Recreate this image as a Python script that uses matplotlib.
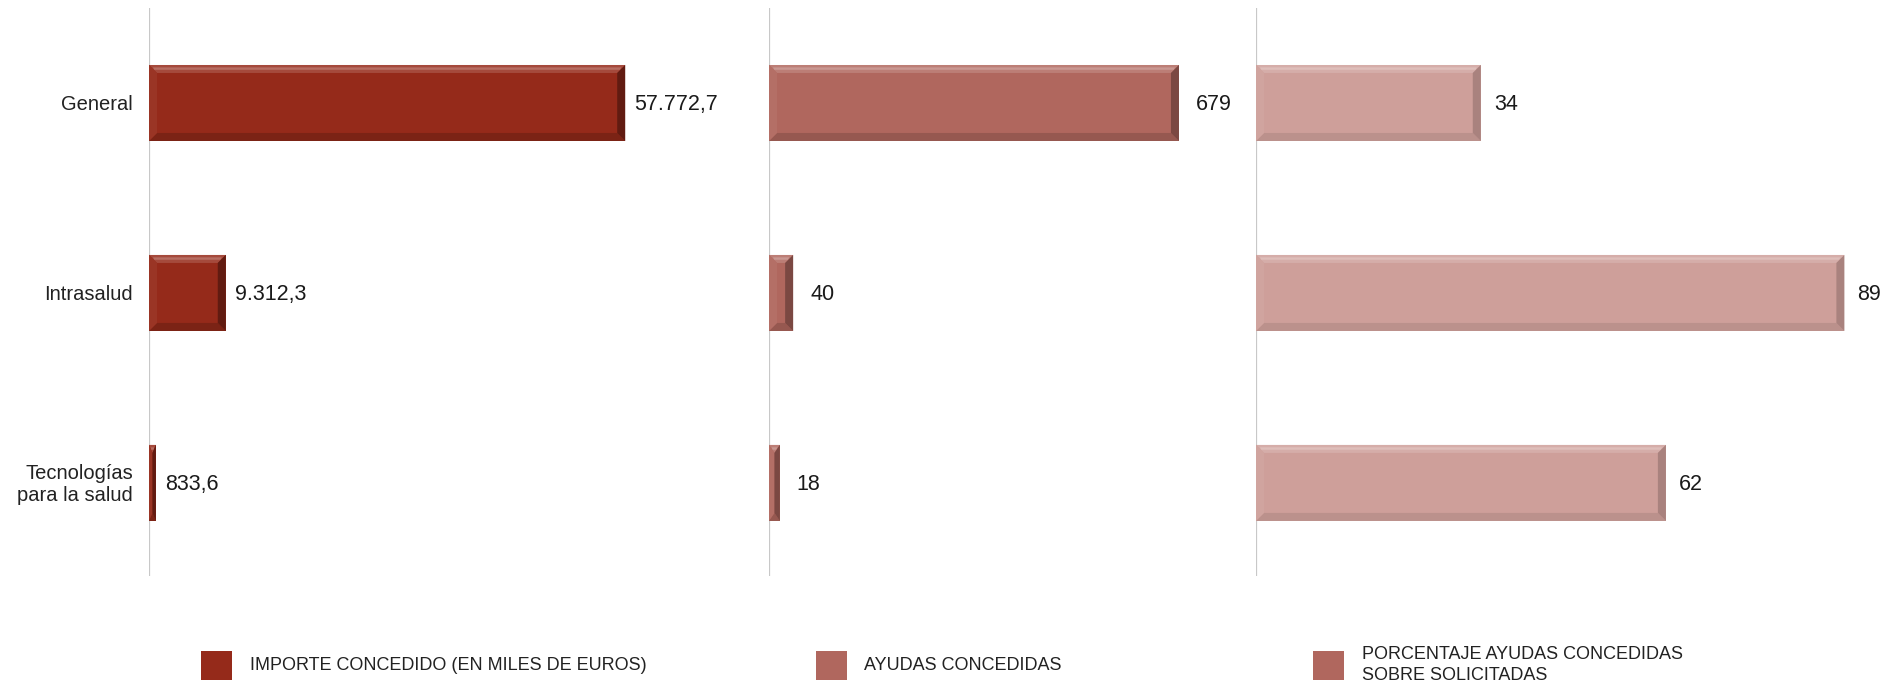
import matplotlib
matplotlib.use("Agg")
import matplotlib.pyplot as plt
from matplotlib.patches import Polygon, Rectangle
import matplotlib.colors as mcolors
import numpy as np

plt.rcParams['font.family'] = ['Liberation Sans', 'DejaVu Sans']

categories = ["General", "Intrasalud", "Tecnologías\npara la salud"]
importe = [57772.7, 9312.3, 833.6]
ayudas = [679, 40, 18]
porcentaje = [34, 89, 62]
importe_labels = ["57.772,7", "9.312,3", "833,6"]
ayudas_labels = ["679", "40", "18"]
porcentaje_labels = ["34", "89", "62"]
legend_labels = ["IMPORTE CONCEDIDO (EN MILES DE EUROS)", "AYUDAS CONCEDIDAS",
                 "PORCENTAJE AYUDAS CONCEDIDAS\nSOBRE SOLICITADAS"]

W, H = 1901, 688
fig = plt.figure(figsize=(W / 100, H / 100), dpi=100)
YTOP, YBOT = 8, 576

def ax_at(x0, x1):
    return fig.add_axes([x0 / W, (H - YBOT) / H, (x1 - x0) / W, (YBOT - YTOP) / H])

def blend(c, other, t):
    c = np.array(mcolors.to_rgb(c)); o = np.array(mcolors.to_rgb(other))
    return tuple(c * (1 - t) + o * t)

panels = [
    dict(x0=149, x1=726, xmax=70000, vals=importe, labels=importe_labels, color="#952A1A",
         off=9, dk=0.35),
    dict(x0=769, x1=1252, xmax=800, vals=ayudas, labels=ayudas_labels, color="#B0675E",
         off=17, dk=0.3),
    dict(x0=1256, x1=1851, xmax=90, vals=porcentaje, labels=porcentaje_labels, color="#CE9F9A",
         off=13, dk=0.18),
]

ypos = np.arange(len(categories))
bar_h = 0.40
ylim = (2.49, -0.5)

for i, p in enumerate(panels):
    ax = ax_at(p["x0"], p["x1"])
    ax.set_xlim(0, p["xmax"])
    ax.set_ylim(*ylim)
    ax.axis("off")
    ax.axvline(0, color="#C8C8C8", lw=1.6, zorder=1)
    bars = ax.barh(ypos, p["vals"], height=bar_h, color=p["color"], zorder=2, linewidth=0)
    axw = p["x1"] - p["x0"]
    axh = YBOT - YTOP
    sx = p["xmax"] / axw
    sy = (ylim[0] - ylim[1]) / axh
    c = p["color"]
    dk = p["dk"]
    for b in bars:
        x0 = b.get_x(); w = b.get_width(); yc = b.get_y() + b.get_height() / 2
        yt = yc - bar_h / 2; yb = yc + bar_h / 2
        bw = min(8 * sx, w / 2); bh = 8 * sy
        # top (light)
        ax.add_patch(Polygon([(x0, yt), (x0 + w, yt), (x0 + w - bw, yt + bh), (x0 + bw, yt + bh)],
                             closed=True, color=blend(c, "white", 0.15), lw=0, zorder=3))
        ax.add_patch(Polygon([(x0 + bw * 0.5, yt + bh * 0.3), (x0 + w - bw * 0.5, yt + bh * 0.3),
                              (x0 + w - bw * 0.65, yt + bh * 0.6), (x0 + bw * 0.65, yt + bh * 0.6)],
                             closed=True, color=blend(c, "white", 0.32), lw=0, zorder=3))
        # bottom (dark)
        ax.add_patch(Polygon([(x0, yb), (x0 + w, yb), (x0 + w - bw, yb - bh), (x0 + bw, yb - bh)],
                             closed=True, color=blend(c, "black", dk * 0.5), lw=0, zorder=3))
        # left (slightly light)
        ax.add_patch(Polygon([(x0, yt), (x0 + bw, yt + bh), (x0 + bw, yb - bh), (x0, yb)],
                             closed=True, color=blend(c, "white", 0.05), lw=0, zorder=3))
        # right (dark)
        ax.add_patch(Polygon([(x0 + w, yt), (x0 + w - bw, yt + bh), (x0 + w - bw, yb - bh), (x0 + w, yb)],
                             closed=True, color=blend(c, "black", dk), lw=0, zorder=3))
    for b, lab in zip(bars, p["labels"]):
        ax.annotate(lab, (b.get_width(), b.get_y() + b.get_height() / 2),
                    xytext=(p["off"], -2), textcoords="offset pixels",
                    ha="left", va="center", fontsize=15.5, color="#1a1a1a",
                    annotation_clip=False)
    if i == 0:
        for y, cat in zip(ypos, categories):
            ax.annotate(cat, (0, y), xytext=(-16, -2), textcoords="offset pixels",
                        ha="right", va="center", fontsize=14.5, color="#222222",
                        linespacing=1.2, annotation_clip=False)

# legend
leg_items = [(201, 250, "#952A1A"), (816, 864, "#B0675E"), (1313, 1362, "#B0675E")]
for (sqx, tx, col), lab in zip(leg_items, legend_labels):
    fig.patches.append(Rectangle((sqx / W, (H - 680) / H), 31 / W, 29 / H,
                                 transform=fig.transFigure, color=col, lw=0))
    fig.text(tx / W, (H - 665) / H, lab, ha="left", va="center", fontsize=13,
             color="#222222", linespacing=1.35)

fig.savefig("out.png", dpi=100, facecolor="white")
